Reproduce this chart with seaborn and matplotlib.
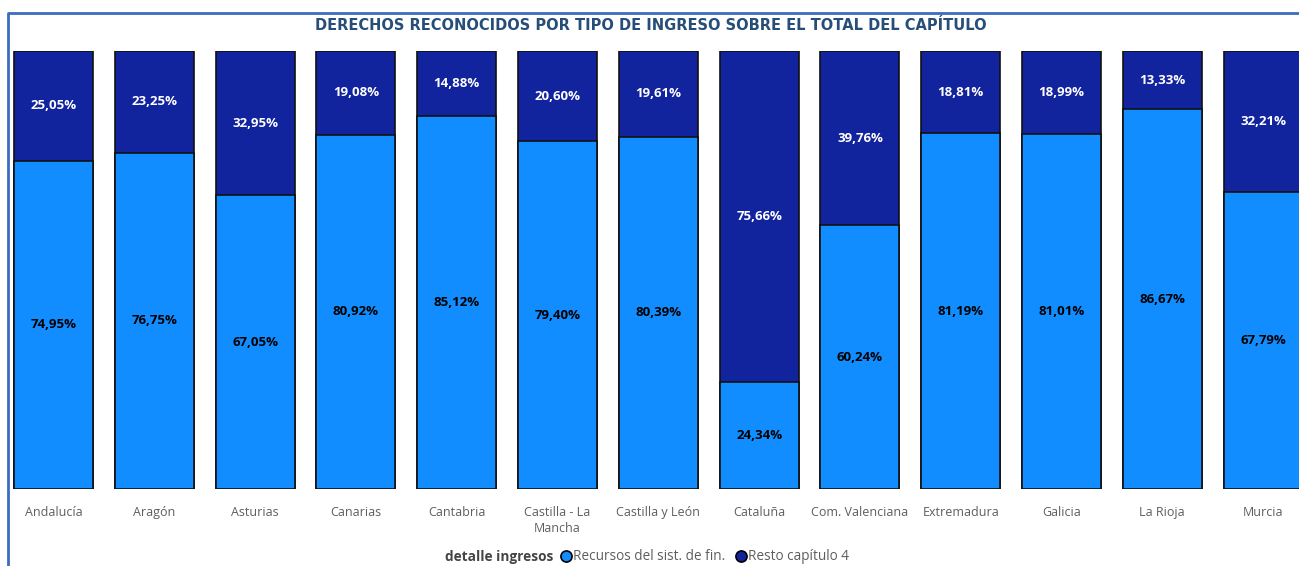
import matplotlib
matplotlib.use("Agg")
import matplotlib.pyplot as plt
from matplotlib.lines import Line2D
import seaborn as sns


regiones = ["Andalucía", "Aragón", "Asturias", "Canarias", "Cantabria",
            "Castilla - La Mancha", "Castilla y León", "Cataluña",
            "Com. Valenciana", "Extremadura", "Galicia", "La Rioja", "Murcia"]
etiquetas = ["Andalucía", "Aragón", "Asturias", "Canarias", "Cantabria",
             "Castilla - La\nMancha", "Castilla y León", "Cataluña",
             "Com. Valenciana", "Extremadura", "Galicia", "La Rioja", "Murcia"]
recursos = [74.95, 76.75, 67.05, 80.92, 85.12, 79.40, 80.39, 24.34,
            60.24, 81.19, 81.01, 86.67, 67.79]
resto = [25.05, 23.25, 32.95, 19.08, 14.88, 20.60, 19.61, 75.66,
         39.76, 18.81, 18.99, 13.33, 32.21]

c_claro = "#118DFF"
c_oscuro = "#12239E"

sns.set_style("white")
plt.rcParams["font.family"] = ["Open Sans", "DejaVu Sans"]

fig = plt.figure(figsize=(12.99, 5.66), dpi=100)
W, H = 1299, 566
ax = fig.add_axes([0, (H - 489) / H, 1, 438 / H])

total = [a + b for a, b in zip(recursos, resto)]
sns.barplot(x=regiones, y=total, color=c_oscuro, saturation=1, width=0.784,
            edgecolor="#111111", linewidth=1.2, errorbar=None, ax=ax)
sns.barplot(x=regiones, y=recursos, color=c_claro, saturation=1, width=0.784,
            edgecolor="#111111", linewidth=1.2, errorbar=None, ax=ax)

def fmt(v):
    return f"{v:.2f}".replace(".", ",") + "%"

for i, (a, b) in enumerate(zip(recursos, resto)):
    ax.text(i, a / 2, fmt(a), ha="center", va="center", fontsize=9.5,
            fontweight="bold", color="black")
    ax.text(i, a + b / 2, fmt(b), ha="center", va="center", fontsize=9.5,
            fontweight="bold", color="white")

ax.set_xlim(-53.5 / 100.8, (W - 53.5) / 100.8)
ax.set_ylim(0, 100)
ax.set_yticks([])
ax.set_xticks(range(len(etiquetas)))
ax.set_xticklabels(etiquetas, fontsize=9, color="#605E5C", linespacing=1.3)
ax.tick_params(axis="x", length=0, pad=12)
ax.set_xlabel("")
ax.set_ylabel("")
sns.despine(ax=ax, left=True, bottom=True)

fig.text(651 / W, 1 - 25 / H, "DERECHOS RECONOCIDOS POR TIPO DE INGRESO SOBRE EL TOTAL DEL CAPÍTULO",
         ha="center", va="center", fontsize=10.5, fontweight="heavy",
         color="#264E78", family="DejaVu Sans")

# marco
fig.add_artist(Line2D([8 / W, 8 / W, 1], [0, 1 - 13 / H, 1 - 13 / H],
                      transform=fig.transFigure, color="#3A6DBF", linewidth=2))

# leyenda
fig.text(553 / W, 1 - 557 / H, "detalle ingresos", ha="right", va="center",
         fontsize=9.8, fontweight="bold", color="#444444")
handles = [Line2D([], [], marker="o", linestyle="", markerfacecolor=c,
                  markeredgecolor="black", markeredgewidth=1.2, markersize=8)
           for c in (c_claro, c_oscuro)]
fig.legend(handles, ["Recursos del sist. de fin.", "Resto capítulo 4"],
           ncol=2, frameon=False, loc="center left",
           bbox_to_anchor=(559 / W, 1 - 557 / H), handletextpad=0.05,
           columnspacing=0.6, handlelength=1.0, fontsize=9.8,
           labelcolor="#605E5C", borderaxespad=0, borderpad=0)

fig.savefig("out.png", dpi=100)
